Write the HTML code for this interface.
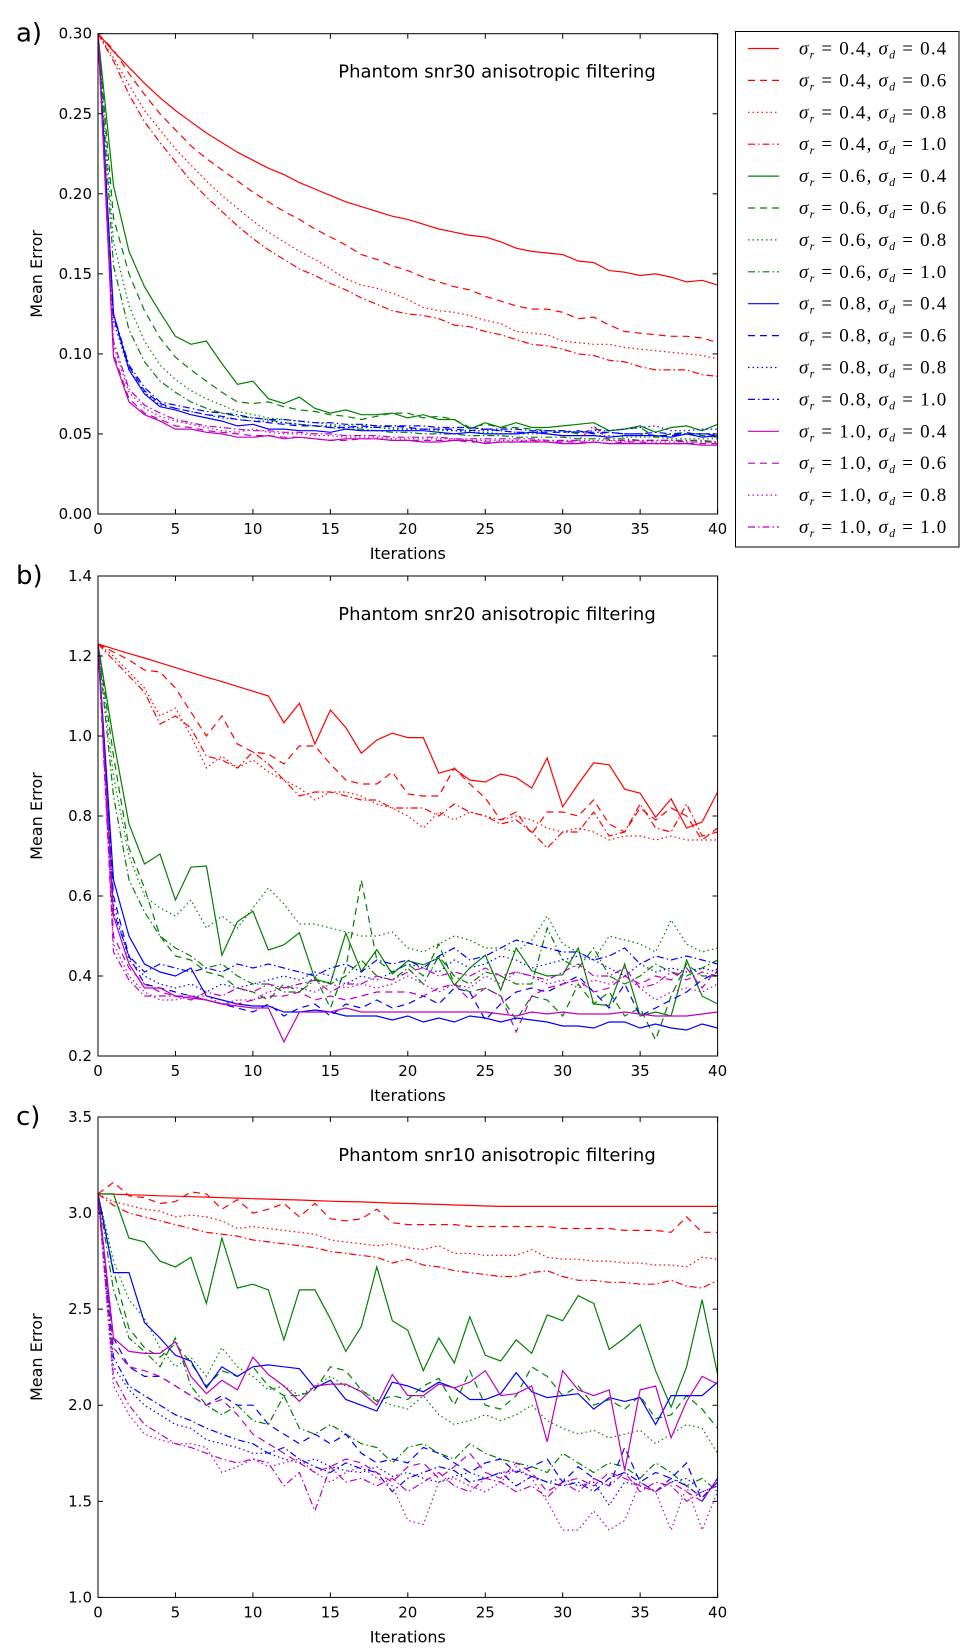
<!DOCTYPE html>
<html><head><meta charset="utf-8"><style>
body{margin:0;background:#fff}
svg{display:block}
text{font-family:"DejaVu Sans","Liberation Sans",sans-serif;fill:#000}
.lg{font-family:"Liberation Serif","DejaVu Serif",serif;font-size:19px;letter-spacing:1.2px}
</style></head><body>
<svg id="fig" width="980" height="1652" viewBox="0 0 980 1652" xmlns="http://www.w3.org/2000/svg"></svg>
<script>
const iterations = Array.from({length:41},(_,i)=>i);
const seriesLabels = ["0.4,0.4","0.4,0.6","0.4,0.8","0.4,1.0","0.6,0.4","0.6,0.6","0.6,0.8","0.6,1.0","0.8,0.4","0.8,0.6","0.8,0.8","0.8,1.0","1.0,0.4","1.0,0.6","1.0,0.8","1.0,1.0"];
const seriesColors = ["red","red","red","red","green","green","green","green","blue","blue","blue","blue","#c000c0","#c000c0","#c000c0","#c000c0"];
const seriesStyles = ["solid","dashed","dotted","dashdot","solid","dashed","dotted","dashdot","solid","dashed","dotted","dashdot","solid","dashed","dotted","dashdot"];

const snr30 = [
[0.300,0.289,0.279,0.269,0.260,0.252,0.245,0.238,0.232,0.226,0.221,0.216,0.212,0.207,0.203,0.199,0.195,0.192,0.189,0.186,0.184,0.181,0.178,0.176,0.174,0.173,0.170,0.166,0.164,0.163,0.162,0.158,0.157,0.152,0.151,0.149,0.150,0.148,0.145,0.146,0.143],
[0.300,0.290,0.275,0.262,0.250,0.240,0.230,0.222,0.215,0.208,0.201,0.195,0.189,0.184,0.178,0.173,0.168,0.162,0.159,0.155,0.152,0.148,0.145,0.142,0.140,0.136,0.133,0.130,0.128,0.128,0.126,0.122,0.123,0.118,0.114,0.113,0.112,0.111,0.111,0.110,0.107],
[0.300,0.285,0.268,0.252,0.240,0.228,0.218,0.208,0.199,0.191,0.183,0.176,0.170,0.164,0.159,0.153,0.147,0.143,0.141,0.138,0.134,0.129,0.127,0.126,0.124,0.121,0.119,0.114,0.113,0.112,0.108,0.107,0.106,0.106,0.104,0.103,0.102,0.101,0.100,0.099,0.097],
[0.300,0.283,0.262,0.245,0.232,0.220,0.208,0.198,0.189,0.180,0.172,0.165,0.159,0.153,0.149,0.144,0.140,0.135,0.131,0.127,0.125,0.124,0.122,0.118,0.117,0.114,0.112,0.109,0.106,0.105,0.103,0.100,0.099,0.096,0.095,0.092,0.090,0.090,0.090,0.087,0.086],
[0.300,0.205,0.164,0.142,0.126,0.111,0.106,0.108,0.094,0.081,0.083,0.072,0.069,0.073,0.066,0.063,0.065,0.062,0.062,0.063,0.060,0.062,0.059,0.059,0.053,0.057,0.054,0.057,0.054,0.054,0.055,0.056,0.057,0.052,0.053,0.055,0.051,0.054,0.055,0.052,0.056],
[0.300,0.185,0.150,0.127,0.110,0.098,0.090,0.083,0.076,0.070,0.069,0.070,0.067,0.065,0.064,0.062,0.061,0.059,0.061,0.063,0.063,0.060,0.061,0.059,0.054,0.056,0.054,0.054,0.053,0.052,0.052,0.050,0.053,0.052,0.053,0.054,0.048,0.050,0.051,0.049,0.048],
[0.300,0.170,0.130,0.108,0.093,0.084,0.077,0.072,0.068,0.064,0.062,0.060,0.059,0.058,0.057,0.056,0.055,0.056,0.055,0.054,0.053,0.053,0.052,0.052,0.051,0.051,0.050,0.050,0.050,0.050,0.049,0.049,0.049,0.049,0.048,0.048,0.048,0.047,0.047,0.047,0.047],
[0.300,0.155,0.115,0.095,0.083,0.076,0.070,0.066,0.063,0.061,0.060,0.059,0.057,0.056,0.055,0.054,0.053,0.053,0.052,0.051,0.051,0.050,0.050,0.050,0.049,0.049,0.049,0.048,0.048,0.048,0.048,0.047,0.047,0.047,0.047,0.046,0.046,0.046,0.046,0.046,0.045],
[0.300,0.125,0.090,0.075,0.067,0.065,0.062,0.060,0.058,0.055,0.056,0.053,0.053,0.052,0.052,0.051,0.053,0.052,0.052,0.052,0.052,0.052,0.051,0.050,0.051,0.050,0.050,0.050,0.051,0.050,0.049,0.049,0.049,0.048,0.049,0.049,0.049,0.048,0.050,0.048,0.049],
[0.300,0.123,0.092,0.077,0.069,0.066,0.064,0.062,0.061,0.059,0.058,0.057,0.056,0.055,0.055,0.054,0.054,0.055,0.054,0.055,0.054,0.053,0.053,0.053,0.052,0.053,0.052,0.051,0.051,0.051,0.051,0.052,0.050,0.051,0.050,0.050,0.049,0.049,0.050,0.050,0.049],
[0.300,0.120,0.090,0.076,0.068,0.066,0.064,0.062,0.060,0.059,0.058,0.058,0.057,0.056,0.055,0.055,0.054,0.054,0.054,0.053,0.053,0.053,0.053,0.052,0.052,0.052,0.052,0.051,0.051,0.052,0.051,0.051,0.052,0.052,0.053,0.054,0.055,0.052,0.052,0.053,0.053],
[0.300,0.125,0.093,0.079,0.070,0.068,0.066,0.064,0.063,0.062,0.060,0.059,0.059,0.058,0.057,0.057,0.056,0.056,0.055,0.055,0.055,0.055,0.054,0.054,0.054,0.053,0.053,0.053,0.052,0.052,0.052,0.051,0.051,0.051,0.050,0.050,0.051,0.050,0.050,0.050,0.050],
[0.300,0.098,0.070,0.062,0.058,0.053,0.053,0.051,0.050,0.048,0.048,0.049,0.047,0.048,0.047,0.046,0.047,0.047,0.047,0.046,0.046,0.045,0.045,0.046,0.046,0.044,0.045,0.045,0.045,0.045,0.044,0.044,0.045,0.044,0.044,0.044,0.044,0.044,0.044,0.043,0.043],
[0.300,0.100,0.072,0.063,0.059,0.055,0.054,0.052,0.051,0.050,0.049,0.049,0.048,0.048,0.047,0.046,0.046,0.047,0.047,0.046,0.046,0.046,0.046,0.046,0.045,0.045,0.045,0.045,0.046,0.045,0.045,0.045,0.045,0.044,0.045,0.045,0.044,0.044,0.044,0.044,0.044],
[0.300,0.105,0.076,0.066,0.061,0.058,0.056,0.054,0.052,0.051,0.053,0.051,0.050,0.050,0.049,0.049,0.048,0.048,0.048,0.047,0.047,0.047,0.047,0.047,0.046,0.046,0.046,0.046,0.046,0.046,0.045,0.046,0.046,0.046,0.045,0.046,0.045,0.045,0.045,0.045,0.045],
[0.300,0.108,0.078,0.068,0.063,0.059,0.057,0.055,0.054,0.053,0.052,0.052,0.051,0.051,0.050,0.050,0.049,0.049,0.049,0.048,0.048,0.048,0.048,0.047,0.047,0.047,0.047,0.047,0.047,0.046,0.046,0.046,0.055,0.046,0.046,0.046,0.046,0.046,0.045,0.045,0.045]
];
const snr20 = [
[1.230,1.218,1.206,1.195,1.183,1.171,1.159,1.147,1.136,1.124,1.112,1.100,1.033,1.082,0.980,1.065,1.021,0.957,0.990,1.007,0.996,0.996,0.907,0.918,0.890,0.885,0.905,0.896,0.870,0.945,0.823,0.880,0.933,0.928,0.867,0.857,0.797,0.843,0.770,0.785,0.860],
[1.23,1.21,1.19,1.165,1.16,1.12,1.06,1.00,1.05,0.98,0.96,0.955,0.93,0.975,0.975,0.93,0.89,0.88,0.88,0.91,0.855,0.85,0.85,0.92,0.88,0.845,0.79,0.81,0.755,0.81,0.81,0.80,0.84,0.78,0.76,0.82,0.79,0.82,0.80,0.74,0.77],
[1.23,1.20,1.16,1.12,1.05,1.07,1.00,0.92,0.95,0.92,0.94,0.91,0.89,0.87,0.84,0.86,0.86,0.85,0.83,0.82,0.80,0.77,0.81,0.79,0.81,0.80,0.79,0.80,0.79,0.77,0.76,0.77,0.76,0.74,0.75,0.75,0.74,0.75,0.74,0.74,0.74],
[1.23,1.19,1.15,1.11,1.03,1.05,1.02,0.95,0.94,0.92,0.96,0.93,0.89,0.85,0.86,0.86,0.85,0.84,0.84,0.82,0.82,0.82,0.80,0.83,0.81,0.80,0.78,0.79,0.76,0.72,0.76,0.76,0.81,0.75,0.76,0.83,0.77,0.76,0.83,0.75,0.76],
[1.23,0.99,0.78,0.68,0.705,0.59,0.672,0.675,0.452,0.536,0.562,0.465,0.478,0.508,0.392,0.382,0.507,0.412,0.466,0.405,0.438,0.428,0.445,0.377,0.42,0.452,0.365,0.47,0.413,0.40,0.403,0.47,0.33,0.326,0.43,0.30,0.31,0.30,0.44,0.35,0.33],
[1.23,0.95,0.72,0.62,0.50,0.45,0.44,0.41,0.40,0.37,0.36,0.34,0.38,0.36,0.40,0.32,0.42,0.64,0.44,0.41,0.43,0.40,0.48,0.38,0.36,0.37,0.35,0.29,0.35,0.34,0.30,0.38,0.33,0.36,0.30,0.32,0.24,0.35,0.43,0.40,0.40],
[1.23,0.90,0.70,0.60,0.57,0.55,0.59,0.52,0.55,0.52,0.57,0.62,0.58,0.53,0.53,0.52,0.51,0.50,0.50,0.51,0.47,0.46,0.48,0.50,0.49,0.47,0.47,0.46,0.49,0.55,0.48,0.46,0.44,0.50,0.49,0.48,0.46,0.54,0.48,0.46,0.47],
[1.23,0.85,0.64,0.56,0.50,0.47,0.45,0.42,0.43,0.40,0.38,0.38,0.36,0.36,0.39,0.38,0.40,0.44,0.40,0.39,0.42,0.38,0.45,0.40,0.38,0.41,0.40,0.38,0.38,0.52,0.44,0.42,0.47,0.40,0.38,0.40,0.43,0.41,0.40,0.42,0.44],
[1.23,0.64,0.50,0.43,0.41,0.40,0.42,0.35,0.34,0.33,0.325,0.325,0.31,0.31,0.315,0.31,0.30,0.30,0.30,0.29,0.30,0.285,0.295,0.285,0.30,0.295,0.285,0.295,0.29,0.285,0.275,0.275,0.27,0.285,0.285,0.27,0.28,0.27,0.265,0.28,0.27],
[1.23,0.60,0.45,0.38,0.37,0.36,0.35,0.34,0.33,0.32,0.31,0.33,0.30,0.32,0.33,0.30,0.33,0.32,0.34,0.32,0.33,0.35,0.33,0.37,0.36,0.29,0.33,0.36,0.37,0.36,0.38,0.40,0.36,0.32,0.38,0.30,0.32,0.34,0.36,0.39,0.41],
[1.23,0.58,0.44,0.40,0.38,0.37,0.38,0.36,0.38,0.37,0.38,0.39,0.40,0.39,0.41,0.40,0.38,0.40,0.39,0.41,0.43,0.42,0.41,0.44,0.42,0.43,0.45,0.44,0.42,0.43,0.44,0.45,0.44,0.42,0.40,0.43,0.41,0.42,0.41,0.42,0.41],
[1.23,0.56,0.45,0.41,0.43,0.42,0.41,0.42,0.41,0.43,0.42,0.43,0.42,0.41,0.40,0.42,0.43,0.41,0.44,0.43,0.44,0.42,0.45,0.47,0.44,0.45,0.47,0.49,0.48,0.47,0.46,0.46,0.44,0.45,0.47,0.43,0.45,0.44,0.45,0.44,0.43],
[1.23,0.55,0.43,0.37,0.37,0.35,0.345,0.34,0.33,0.325,0.32,0.32,0.235,0.31,0.31,0.31,0.32,0.31,0.31,0.31,0.31,0.31,0.31,0.31,0.31,0.31,0.305,0.30,0.31,0.305,0.31,0.305,0.305,0.305,0.31,0.305,0.30,0.30,0.30,0.305,0.31],
[1.23,0.50,0.42,0.38,0.36,0.35,0.35,0.34,0.33,0.33,0.34,0.35,0.35,0.36,0.34,0.35,0.34,0.35,0.36,0.36,0.36,0.35,0.37,0.38,0.34,0.37,0.35,0.26,0.35,0.37,0.38,0.39,0.36,0.37,0.40,0.38,0.40,0.39,0.42,0.37,0.42],
[1.23,0.48,0.40,0.36,0.34,0.34,0.35,0.35,0.33,0.34,0.34,0.36,0.37,0.37,0.36,0.38,0.37,0.38,0.37,0.38,0.40,0.38,0.36,0.38,0.37,0.40,0.38,0.41,0.40,0.38,0.39,0.37,0.39,0.38,0.40,0.37,0.34,0.36,0.37,0.36,0.38],
[1.23,0.46,0.39,0.35,0.35,0.35,0.34,0.36,0.35,0.37,0.36,0.38,0.37,0.38,0.39,0.36,0.38,0.38,0.40,0.39,0.41,0.42,0.40,0.41,0.40,0.42,0.40,0.41,0.40,0.39,0.41,0.43,0.40,0.40,0.42,0.37,0.38,0.41,0.39,0.41,0.40]
];
const snr10 = [
[3.10,3.098,3.095,3.093,3.09,3.088,3.085,3.083,3.08,3.078,3.075,3.073,3.07,3.068,3.065,3.062,3.06,3.058,3.055,3.052,3.05,3.047,3.045,3.042,3.04,3.037,3.035,3.035,3.035,3.035,3.035,3.035,3.035,3.035,3.035,3.035,3.035,3.035,3.035,3.035,3.035],
[3.10,3.16,3.09,3.08,3.05,3.06,3.11,3.10,3.02,3.07,3.00,3.02,3.05,2.98,3.05,2.97,2.96,2.97,3.02,2.95,2.94,2.94,2.94,2.94,2.93,2.93,2.93,2.93,2.93,2.93,2.92,2.92,2.92,2.92,2.91,2.91,2.91,2.90,2.98,2.90,2.90],
[3.10,3.06,3.04,3.02,3.01,2.98,2.99,2.98,2.96,2.92,2.93,2.92,2.91,2.90,2.89,2.86,2.85,2.84,2.83,2.84,2.82,2.81,2.83,2.79,2.79,2.78,2.78,2.78,2.81,2.77,2.76,2.76,2.75,2.75,2.74,2.74,2.73,2.73,2.72,2.77,2.76],
[3.10,3.04,3.00,2.98,2.96,2.94,2.92,2.90,2.89,2.88,2.86,2.85,2.84,2.83,2.82,2.80,2.79,2.78,2.77,2.74,2.76,2.73,2.72,2.70,2.69,2.68,2.67,2.67,2.69,2.70,2.67,2.65,2.65,2.64,2.64,2.63,2.63,2.65,2.62,2.61,2.65],
[3.10,3.10,2.87,2.85,2.75,2.72,2.77,2.53,2.87,2.61,2.63,2.60,2.34,2.60,2.60,2.45,2.28,2.41,2.72,2.44,2.39,2.18,2.35,2.22,2.46,2.26,2.23,2.34,2.27,2.47,2.44,2.57,2.53,2.29,2.35,2.42,2.18,1.99,2.20,2.55,2.16],
[3.10,2.70,2.40,2.30,2.25,2.32,2.22,2.10,2.18,2.15,2.20,2.10,2.05,2.05,2.08,2.20,2.18,2.08,2.02,2.05,2.03,2.10,2.14,2.00,2.18,2.00,1.98,2.05,2.20,2.15,2.05,2.10,2.00,2.03,1.98,2.05,1.93,1.95,2.05,1.98,1.88],
[3.10,2.75,2.55,2.45,2.30,2.20,2.25,2.15,2.30,2.20,2.15,2.08,2.10,2.05,2.10,2.15,2.10,2.08,2.03,2.00,1.98,2.05,1.95,1.90,1.92,1.95,1.92,1.95,2.00,1.92,1.88,1.85,1.87,1.83,1.85,1.87,1.80,1.85,1.90,1.88,1.75],
[3.10,2.60,2.35,2.28,2.20,2.35,2.10,2.00,1.95,2.00,1.92,1.90,2.05,1.88,1.85,1.90,1.85,1.80,1.78,1.70,1.78,1.80,1.75,1.72,1.80,1.75,1.72,1.70,1.68,1.65,1.75,1.70,1.65,1.70,1.68,1.62,1.70,1.65,1.58,1.62,1.55],
[3.10,2.69,2.69,2.43,2.35,2.26,2.23,2.09,2.20,2.15,2.20,2.21,2.20,2.19,2.09,2.13,2.03,2.00,1.97,2.12,2.10,2.07,2.12,2.09,2.03,2.03,2.06,2.17,2.07,2.04,2.05,2.06,1.98,2.04,2.02,2.04,1.90,2.05,2.05,2.05,2.12],
[3.10,2.35,2.20,2.15,2.15,2.10,2.05,2.00,2.05,2.00,2.00,1.90,1.85,1.80,1.85,1.80,1.85,1.75,1.70,1.72,1.70,1.78,1.75,1.70,1.65,1.70,1.72,1.65,1.68,1.72,1.60,1.68,1.62,1.58,1.78,1.60,1.65,1.62,1.70,1.50,1.62],
[3.10,2.20,2.08,2.00,1.95,1.90,1.88,1.82,1.80,1.78,1.75,1.75,1.72,1.70,1.72,1.68,1.66,1.65,1.68,1.63,1.65,1.62,1.60,1.63,1.65,1.62,1.65,1.66,1.63,1.60,1.62,1.58,1.60,1.48,1.60,1.58,1.55,1.60,1.62,1.55,1.58],
[3.10,2.25,2.10,2.05,2.00,1.95,1.92,1.88,1.85,1.82,1.80,1.75,1.78,1.72,1.68,1.65,1.70,1.67,1.65,1.55,1.62,1.65,1.68,1.66,1.60,1.62,1.65,1.58,1.63,1.60,1.58,1.60,1.55,1.62,1.65,1.60,1.55,1.62,1.58,1.52,1.60],
[3.10,2.35,2.28,2.27,2.27,2.33,2.15,2.06,2.13,2.08,2.25,2.16,2.10,2.02,2.10,2.11,2.11,2.07,2.00,2.16,2.05,2.05,2.11,2.09,2.12,2.18,2.05,2.06,2.10,1.81,2.18,2.08,2.05,2.08,1.66,2.08,2.10,1.83,2.02,2.15,2.11],
[3.10,2.30,2.20,2.18,2.15,2.10,2.05,2.00,2.03,1.95,1.85,1.80,1.75,1.70,1.65,1.68,1.72,1.70,1.65,1.60,1.68,1.70,1.62,1.68,1.75,1.65,1.62,1.70,1.65,1.55,1.60,1.62,1.58,1.65,1.62,1.58,1.55,1.60,1.55,1.50,1.62],
[3.10,2.10,1.95,1.85,1.82,1.80,1.80,1.78,1.65,1.68,1.72,1.68,1.70,1.72,1.65,1.60,1.65,1.68,1.62,1.58,1.40,1.38,1.60,1.62,1.58,1.55,1.60,1.68,1.62,1.50,1.35,1.35,1.45,1.35,1.40,1.60,1.55,1.35,1.58,1.35,1.55],
[3.10,2.15,2.00,1.90,1.85,1.80,1.78,1.75,1.72,1.70,1.72,1.70,1.58,1.65,1.45,1.68,1.60,1.62,1.58,1.62,1.55,1.60,1.65,1.58,1.55,1.62,1.60,1.55,1.58,1.52,1.60,1.55,1.62,1.58,1.65,1.55,1.60,1.58,1.50,1.55,1.58]
];
const xTicks = [0,5,10,15,20,25,30,35,40];
const yTicksA = ["0.00","0.05","0.10","0.15","0.20","0.25","0.30"];
const yTicksB = ["0.2","0.4","0.6","0.8","1.0","1.2","1.4"];
const yTicksC = ["1.0","1.5","2.0","2.5","3.0","3.5"];

const NS="http://www.w3.org/2000/svg";
const svg=document.getElementById('fig');
function mk(tag,attrs,parent){const e=document.createElementNS(NS,tag);for(const k in attrs)e.setAttribute(k,attrs[k]);(parent||svg).appendChild(e);return e;}
const dashes={solid:null,dashed:"7,5",dotted:"1.5,3",dashdot:"7,3,1.5,3"};
const X0=98,X1=717.6;

function panel(key,letter,top,bot,ymin,ymax,ticks,data,title){
  const g=mk('g',{});
  
  
  const xs=v=>X0+(v-0)/(40-0)*(X1-X0);
  const ys=v=>bot-(v-ymin)/(ymax-ymin)*(bot-top);
  const clipId='clip'+key;
  const cp=mk('clipPath',{id:clipId},g);mk('rect',{x:X0,y:top,width:X1-X0,height:bot-top},cp);
  const lines=mk('g',{'clip-path':'url(#'+clipId+')'},g);
  data.forEach((s,i)=>{
    const d=s.map((v,j)=>(j?'L':'M')+xs(iterations[j]).toFixed(1)+','+ys(v).toFixed(1)).join('');
    const p=mk('path',{d:d,fill:'none',stroke:seriesColors[i],'stroke-width':1.2},lines);
    if(dashes[seriesStyles[i]])p.setAttribute('stroke-dasharray',dashes[seriesStyles[i]]);
    
    
  });
  const fr=mk('rect',{x:X0,y:top,width:X1-X0,height:bot-top,fill:'none',stroke:'#000','stroke-width':1},g);
  
  
  xTicks.forEach(t=>{
    const x=xs(t);
    mk('line',{x1:x,x2:x,y1:bot,y2:bot-5,stroke:'#000'},g);
    mk('line',{x1:x,x2:x,y1:top,y2:top+5,stroke:'#000'},g);
    const tx=mk('text',{x:x,y:bot+20,'text-anchor':'middle','font-size':15},g);tx.textContent=t;
    
    
  });
  ticks.forEach(t=>{
    const y=ys(parseFloat(t));
    mk('line',{x1:X0,x2:X0+5,y1:y,y2:y,stroke:'#000'},g);
    mk('line',{x1:X1,x2:X1-5,y1:y,y2:y,stroke:'#000'},g);
    const tx=mk('text',{x:X0-6,y:y+5,'text-anchor':'end','font-size':15},g);tx.textContent=t;
    
    
  });
  const xt=mk('text',{x:(X0+X1)/2,y:bot+45,'text-anchor':'middle','font-size':16},g);xt.textContent='Iterations';
  
  
  const ym=(top+bot)/2;
  const yt=mk('text',{x:42,y:ym,'text-anchor':'middle','font-size':16,transform:'rotate(-90 42 '+ym+')'},g);yt.textContent='Mean Error';
  
  
  const tt=mk('text',{x:497,y:top+44,'text-anchor':'middle','font-size':18},g);tt.textContent=title;
  
  
  const pl=mk('text',{x:16,y:top+8,'font-size':26},g);pl.textContent=letter;
  
  
}
panel('a','a)',33.7,514,0,0.30,yTicksA,snr30,'Phantom snr30 anisotropic filtering');
panel('b','b)',576,1056,0.2,1.4,yTicksB,snr20,'Phantom snr20 anisotropic filtering');
panel('c','c)',1117,1597.4,1.0,3.5,yTicksC,snr10,'Phantom snr10 anisotropic filtering');

// legend
const lg=mk('g',{});


mk('rect',{x:735.5,y:31.5,width:223.5,height:515.5,fill:'#fff',stroke:'#000','stroke-width':1},lg);
seriesLabels.forEach((lab,i)=>{
  const y=48.5+i*31.9;
  const e=mk('g',{},lg);
  
  
  const l=mk('line',{x1:748,x2:779,y1:y,y2:y,stroke:seriesColors[i],'stroke-width':1.2},e);
  if(dashes[seriesStyles[i]])l.setAttribute('stroke-dasharray',dashes[seriesStyles[i]]);
  const [a,b]=lab.split(',');
  const t=mk('text',{x:799,y:y+6,class:'lg'},e);
  t.innerHTML='<tspan font-style="italic">σ</tspan><tspan font-style="italic" font-size="12" dy="4">r</tspan><tspan dy="-4"> = '+a+', </tspan><tspan font-style="italic">σ</tspan><tspan font-style="italic" font-size="12" dy="4">d</tspan><tspan dy="-4"> = '+b+'</tspan>';
});
</script>
</body></html>
